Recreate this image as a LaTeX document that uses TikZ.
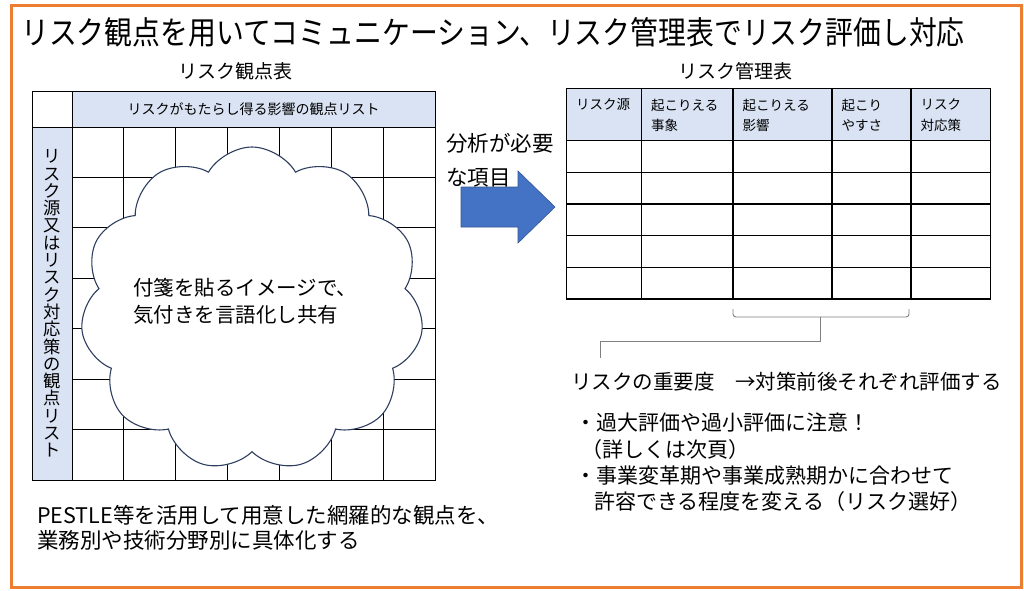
\documentclass[tikz,border=0pt]{standalone}
\usepackage{fontspec}
\setmainfont{Noto Sans CJK JP}
\newfontfamily\titlefont[FakeStretch=0.87]{Noto Sans CJK JP}
\usetikzlibrary{positioning,shapes.symbols}

\definecolor{hdrblue}{HTML}{DAE3F3}
\definecolor{arrowblue}{HTML}{4472C4}
\definecolor{frameorange}{HTML}{ED7D31}
\definecolor{cloudnavy}{HTML}{2F3F5F}
\definecolor{bracegray}{HTML}{808080}

\newcommand{\fs}[2]{\fontsize{#1}{#2}\selectfont}

\begin{document}
\begin{tikzpicture}[x=1pt,y=-1pt,inner sep=0pt]
  \tikzstyle{lgrid}=[draw=black, line width=0.9pt]
  \tikzstyle{mgrid}=[draw=black, line width=1.4pt]
  \tikzstyle{sub}=[font=\fs{19}{22}]
  \tikzstyle{mhead}=[anchor=north west, align=left, font=\fs{13.5}{20.5}]
  \tikzstyle{note}=[anchor=west, align=left, font=\fs{21}{26.3}]
  \tikzstyle{bracket}=[draw=bracegray, line width=0.9pt, rounded corners=3pt]
  \tikzstyle{link}=[draw=bracegray, line width=0.9pt]

  \useasboundingbox (0,0) rectangle (1024,590);
  \draw[frameorange, line width=3.2pt] (11.5,5.3) rectangle (1021.5,587.5);

  \node[anchor=west, font=\titlefont\fs{32}{36}] (title) at (21,32)
    {リスク観点を用いてコミュニケーション、リスク管理表でリスク評価し対応};

  % left table
  \node[sub] (ltitle) at (235,71) {リスク観点表};
  \draw[lgrid] (32.7,91) rectangle (72,127);
  \node[lgrid, fill=hdrblue, minimum width=363, minimum height=36, font=\fs{14}{16}]
    (lhead) at (253.5,109) {リスクがもたらし得る影響の観点リスト};
  \node[lgrid, fill=hdrblue, minimum width=39.3, minimum height=353, align=center, font=\fs{17.3}{17.3}]
    (lside) at (52.35,303.5) {リ\\ス\\ク\\源\\又\\は\\リ\\ス\\ク\\対\\応\\策\\の\\観\\点\\リ\\ス\\ト};
  \foreach \i in {1,...,6} {
    \draw[lgrid] (72+\i*51.857,127) -- (72+\i*51.857,480);
    \draw[lgrid] (72,127+\i*50.43) -- (435,127+\i*50.43);
  }
  \draw[lgrid] (72,127) rectangle (435,480);

  \node[cloud, cloud puffs=11, cloud puff arc=120, draw=cloudnavy, fill=white, line width=1.1pt,
        minimum width=343, minimum height=324] (cloud) at (252,309) {};
  \node[anchor=west, align=left, font=\fs{20.5}{27}] (memo) at (133,301.5)
    {付箋を貼るイメージで、\\気付きを言語化し共有};

  \node[note, font=\fs{21.5}{25}] (pestle) at (37,527.5)
    {PESTLE等を活用して用意した網羅的な観点を、\\業務別や技術分野別に具体化する};

  % arrow
  \draw[draw=arrowblue!75!black, fill=arrowblue, line width=0.6pt]
    (461,187) -- (518,187) -- (518,171) -- (555,207) -- (518,243) -- (518,227) -- (461,227) -- cycle;
  \node[anchor=west, align=left, font=\fs{21.5}{34}] (need) at (446,160) {分析が必要\\な項目};

  % right table
  \node[sub] (mtitle) at (735,71) {リスク管理表};
  \fill[hdrblue] (566.5,88.5) rectangle (990.5,140.5);
  \foreach \yy in {140.5,172.2,203.9,235.6,267.3}
    \draw[mgrid] (566.5,\yy) -- (990.5,\yy);
  \foreach \xx in {641.5,733,832,911}
    \draw[mgrid] (\xx,88.5) -- (\xx,299);
  \draw[mgrid] (566.5,88.5) rectangle (990.5,299);
  \foreach \xl/\txt [count=\i] in {566.5/{リスク源}, 641.5/{起こりえる\\事象}, 733/{起こりえる\\影響},
                                   832/{起こり\\やすさ}, 911/{リスク\\対応策}}
    \node[mhead] (mh\i) at (\xl+9.5,98.5) {\txt};

  % brace and link
  \draw[bracket] (733,309) -- (733,317) -- (909,317) -- (909,309);
  \coordinate (bmid) at (820,317);
  \coordinate (stub) at (600,358);
  \draw[link] (bmid) -- (820,341) -| (stub);

  \node[note, font=\fs{20.5}{26}] (imp) at (571,382) {リスクの重要度　→対策前後それぞれ評価する};
  \node[note] (tips) at (575,462.5)
    {・過大評価や過小評価に注意！\\\hspace*{6.5pt}（詳しくは次頁）\\・事業変革期や事業成熟期かに合わせて\\\hspace*{19pt}許容できる程度を変える（リスク選好）};
\end{tikzpicture}
\end{document}
